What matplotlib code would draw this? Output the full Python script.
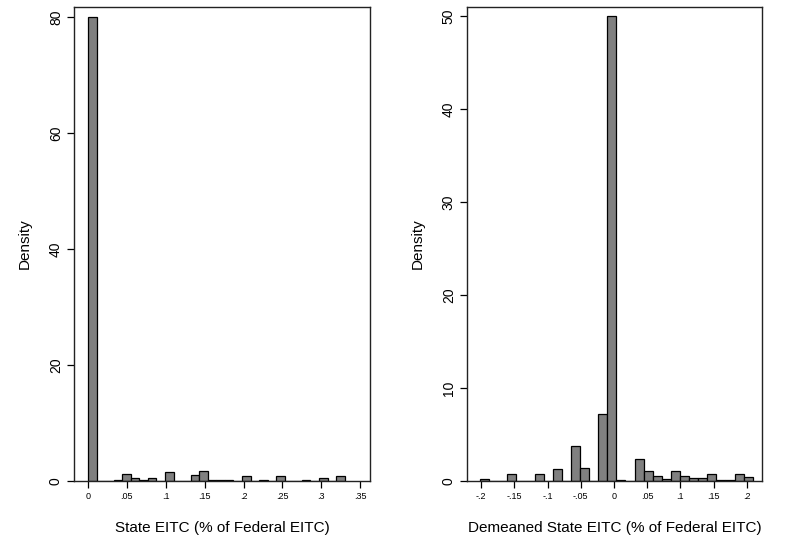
import numpy as np
import matplotlib.pyplot as plt

plt.rcParams['font.family'] = ['Liberation Sans', 'DejaVu Sans']

# state EITC histogram: 30 bins of width .011 starting at 0
state_start = 0.0
state_width = 0.011
state_density = [80, 0, 0, 0.2, 1.27, 0.52, 0.23, 0.46, 0, 1.5,
                 0, 0, 1.1, 1.67, 0.23, 0.23, 0.1, 0, 0.8, 0,
                 0.2, 0, 0.86, 0, 0, 0.2, 0, 0.58, 0, 0.8]
state_xticks = [0, .05, .1, .15, .2, .25, .3, .35]
state_xlabels = ['0', '.05', '.1', '.15', '.2', '.25', '.3', '.35']
state_yticks = [0, 20, 40, 60, 80]

# demeaned state EITC histogram: 30 bins
dm_start = -0.2018
dm_width = 0.01369
dm_density = [0.18, 0, 0, 0.79, 0, 0, 0.72, 0, 1.25, 0,
              3.78, 1.4, 0, 7.25, 50, 0.07, 0, 2.4, 1.08, 0.5,
              0.25, 1.04, 0.5, 0.32, 0.36, 0.72, 0.07, 0.07, 0.79, 0.47]
dm_xticks = [-.2, -.15, -.1, -.05, 0, .05, .1, .15, .2]
dm_xlabels = ['-.2', '-.15', '-.1', '-.05', '0', '.05', '.1', '.15', '.2']
dm_yticks = [0, 10, 20, 30, 40, 50]


def hist_panel(ax, start, width, dens, xticks, xlabels, yticks, xlim, ylim, xlabel):
    edges = start + width * np.arange(len(dens))
    ax.bar(edges, dens, width=width, align='edge', color='#808080',
           edgecolor='black', linewidth=0.9)
    ax.set_xlim(*xlim)
    ax.set_ylim(*ylim)
    ax.set_xticks(xticks)
    ax.set_xticklabels(xlabels, fontsize=6.5)
    ax.set_yticks(yticks)
    ax.set_yticklabels([str(t) for t in yticks], fontsize=10, rotation=90, va='center')
    ax.tick_params(direction='out', length=5, width=0.9, colors='black')
    ax.tick_params(axis='x', pad=3)
    ax.tick_params(axis='y', pad=3)
    for s in ax.spines.values():
        s.set_linewidth(1.0)
        s.set_color('#222222')
    ax.set_xlabel(xlabel, fontsize=11, labelpad=14)
    ax.set_ylabel('Density', fontsize=11, labelpad=12)


fig = plt.figure(figsize=(7.93, 5.42), dpi=100)
ax1 = fig.add_axes([74 / 793, 1 - 481 / 542, 296 / 793, 474 / 542])
ax2 = fig.add_axes([467 / 793, 1 - 481 / 542, 295 / 793, 474 / 542])

hist_panel(ax1, state_start, state_width, state_density, state_xticks, state_xlabels,
           state_yticks, (-0.018, 0.3625), (0, 81.7),
           'State EITC (% of Federal EITC)')
hist_panel(ax2, dm_start, dm_width, dm_density, dm_xticks, dm_xlabels,
           dm_yticks, (-0.2214, 0.2229), (0, 51.0),
           'Demeaned State EITC (% of Federal EITC)')

fig.savefig('out.png', dpi=100)
